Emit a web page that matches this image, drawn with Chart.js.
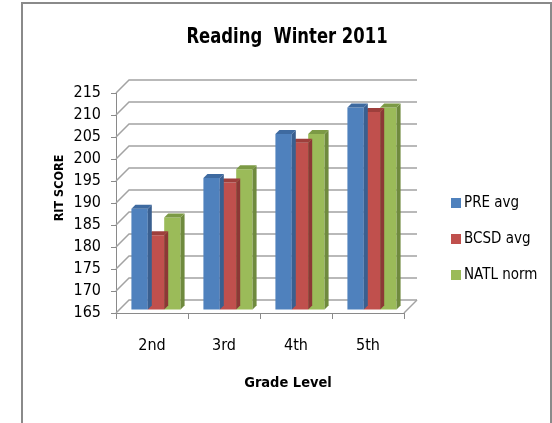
<!DOCTYPE html>
<html>
<head>
<meta charset="utf-8">
<script src="https://cdn.jsdelivr.net/npm/chart.js@4.4.1/dist/chart.umd.min.js"></script>
<style>
  html, body { margin: 0; padding: 0; background: #fff; }
  #wrap { width: 552px; height: 423px; }
</style>
</head>
<body>
<div id="wrap"><canvas id="c" width="552" height="423"></canvas></div>
<script>
// data
const grades = ['2nd', '3rd', '4th', '5th'];
const preAvg = [188, 195, 205, 211];
const bcsdAvg = [182, 194, 203, 210];
const natlNorm = [186, 197, 205, 211];
const seriesNames = ['PRE avg', 'BCSD avg', 'NATL norm'];
const yMin = 165, yMax = 215, yStep = 5;

const FONT = '"Liberation Sans Narrow", "DejaVu Sans Condensed", "Arial Narrow", sans-serif';
const DEPTH = 13;      // wall depth (px)
const BAR_D = 4;       // bar side/top depth
const BAR_SHIFT = { x: 4, y: -3 };

const faceColors = [
  { front: '#4F81BD', side: '#3A5F8F', top: '#3E6AA0' },
  { front: '#C0504D', side: '#8C3836', top: '#9E3F3C' },
  { front: '#9BBB59', side: '#6F8A3E', top: '#7C9A45' }
];

// squeezed text, the reference looks horizontally compressed
function squeezed(ctx, text, x, y, sx) {
  ctx.save();
  ctx.translate(x, y);
  ctx.scale(sx, 1);
  ctx.fillText(text, 0, 0);
  ctx.restore();
}

const pseudo3d = {
  id: 'pseudo3d',
  beforeDatasetsDraw(chart) {
    const { ctx, chartArea: a, scales: { y } } = chart;
    ctx.save();
    ctx.strokeStyle = '#a3a3a3';
    ctx.lineWidth = 1.5;
    y.ticks.forEach(t => {
      const py = y.getPixelForValue(t.value);
      ctx.beginPath();
      ctx.moveTo(a.left, py);
      ctx.lineTo(a.left + DEPTH, py - DEPTH);
      ctx.lineTo(a.right + DEPTH, py - DEPTH);
      ctx.stroke();
    });
    // right edge of the floor
    ctx.beginPath();
    ctx.moveTo(a.right, a.bottom);
    ctx.lineTo(a.right + DEPTH, a.bottom - DEPTH);
    ctx.stroke();
    ctx.restore();

    ctx.save();
    ctx.translate(BAR_SHIFT.x, BAR_SHIFT.y);
  },
  afterDatasetDraw(chart, args) {
    const { ctx } = chart;
    const c = faceColors[args.index];
    const d = BAR_D;
    args.meta.data.forEach(bar => {
      const p = bar.getProps(['x', 'y', 'base', 'width'], true);
      const l = p.x - p.width / 2, r = p.x + p.width / 2;
      ctx.fillStyle = c.side;
      ctx.beginPath();
      ctx.moveTo(r, p.y);
      ctx.lineTo(r + d, p.y - d);
      ctx.lineTo(r + d, p.base - d);
      ctx.lineTo(r, p.base);
      ctx.closePath();
      ctx.fill();
      ctx.fillStyle = c.top;
      ctx.beginPath();
      ctx.moveTo(l, p.y);
      ctx.lineTo(l + d, p.y - d);
      ctx.lineTo(r + d, p.y - d);
      ctx.lineTo(r, p.y);
      ctx.closePath();
      ctx.fill();
    });
  },
  afterDatasetsDraw(chart) {
    chart.ctx.restore();
  },
  afterDraw(chart) {
    const { ctx } = chart;
    ctx.save();
    // outer frame
    ctx.strokeStyle = '#8a8a8a';
    ctx.lineWidth = 2;
    ctx.strokeRect(22, 3, 529, 500);

    ctx.fillStyle = '#000';
    ctx.textAlign = 'center';
    ctx.textBaseline = 'middle';
    ctx.font = 'bold 22px ' + FONT;
    squeezed(ctx, 'Reading  Winter 2011', 287, 37, 0.83);

    ctx.font = 'bold 14.5px ' + FONT;
    ctx.fillText('Grade Level', 288, 383);

    ctx.save();
    ctx.translate(60, 188);
    ctx.rotate(-Math.PI / 2);
    ctx.font = 'bold 12.5px ' + FONT;
    ctx.fillText('RIT SCORE', 0, 0);
    ctx.restore();

    // legend
    ctx.textAlign = 'left';
    ctx.font = '15px ' + FONT;
    const ys = [203, 239, 275];
    chart.data.datasets.forEach((ds, i) => {
      ctx.fillStyle = ds.backgroundColor;
      ctx.fillRect(451, ys[i] - 5, 10, 10);
      ctx.fillStyle = '#000';
      ctx.fillText(ds.label, 464, ys[i]);
    });
    ctx.restore();
  }
};

new Chart(document.getElementById('c'), {
  type: 'bar',
  data: {
    labels: grades,
    datasets: [
      { label: seriesNames[0], data: preAvg, backgroundColor: faceColors[0].front },
      { label: seriesNames[1], data: bcsdAvg, backgroundColor: faceColors[1].front },
      { label: seriesNames[2], data: natlNorm, backgroundColor: faceColors[2].front }
    ]
  },
  options: {
    responsive: false,
    animation: false,
    layout: { padding: { top: 93, right: 148, bottom: 0, left: 0 } },
    datasets: { bar: { base: yMin, categoryPercentage: 0.683, barPercentage: 1.0, borderWidth: 0, clip: false } },
    plugins: {
      legend: { display: false },
      title: { display: false },
      tooltip: { enabled: false }
    },
    scales: {
      x: {
        grid: { drawOnChartArea: false, tickLength: 6, color: '#8a8a8a' },
        border: { color: '#8a8a8a' },
        ticks: { padding: 17, color: '#000', font: { family: FONT, size: 16 } },
        afterFit: s => { s.height = 110; }
      },
      y: {
        min: yMin, max: yMax,
        grid: { drawOnChartArea: false, tickLength: 5, color: '#8a8a8a' },
        border: { color: '#8a8a8a' },
        ticks: { stepSize: yStep, autoSkip: false, padding: 10, color: '#000', font: { family: FONT, size: 16 } },
        afterFit: s => { s.width = 116; }
      }
    }
  },
  plugins: [pseudo3d]
});
</script>
</body>
</html>
